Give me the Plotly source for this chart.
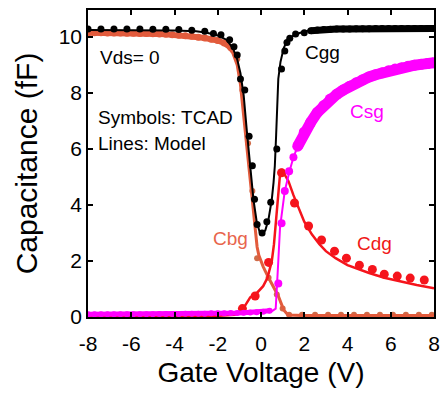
import plotly.graph_objects as go

# ---------------- data ----------------
# Model (lines)
cgg_v = [-8, -6, -4, -3, -2.5, -2, -1.6, -1.3, -1.1, -0.95, -0.8, -0.65, -0.5, -0.35, -0.2, -0.05, 0.05, 0.2, 0.35, 0.5, 0.58, 0.64, 0.7, 0.75, 0.8, 0.9, 1.05, 1.2, 1.5, 2.0, 2.5, 4, 8]
cgg_c = [10.25, 10.25, 10.23, 10.2, 10.15, 10.05, 9.9, 9.6, 9.2, 8.7, 7.9, 6.6, 5.3, 4.2, 3.4, 3.0, 2.95, 3.1, 3.5, 4.2, 4.8, 5.4, 6.5, 7.8, 8.5, 9.1, 9.6, 9.85, 10.05, 10.2, 10.25, 10.3, 10.3]

cbg_v = [-8, -6, -4, -3, -2.5, -2, -1.6, -1.3, -1.1, -0.95, -0.8, -0.64, -0.5, -0.4, -0.3, -0.18, -0.1, 0.1, 0.35, 0.55, 0.8, 0.95, 1.05, 1.25, 2, 8]
cbg_c = [10.12, 10.1, 10.07, 10.02, 9.97, 9.87, 9.72, 9.42, 9.0, 8.3, 7.2, 5.8, 4.8, 4.2, 3.3, 2.5, 2.2, 1.8, 1.4, 1.1, 0.75, 0.45, 0.25, 0.07, 0.05, 0.05]

cdg_v = [-8, -2, -1.2, -0.95, -0.7, -0.5, -0.2, 0.1, 0.3, 0.5, 0.6, 0.7, 0.8, 0.88, 0.95, 1.05, 1.27, 1.5, 1.75, 2.0, 2.35, 2.7, 3.0, 3.45, 4.0, 4.5, 5.0, 5.7, 6.5, 7.2, 8.0]
cdg_c = [0.03, 0.04, 0.08, 0.15, 0.45, 0.7, 0.85, 1.1, 1.4, 2.0, 2.6, 3.5, 4.4, 5.1, 5.28, 5.15, 4.85, 4.35, 3.85, 3.4, 2.95, 2.6, 2.35, 2.1, 1.85, 1.7, 1.57, 1.4, 1.25, 1.14, 1.03]

csg_v = [-8, -4, -1, 0, 0.5, 0.68, 0.74, 0.8, 0.88, 1.0, 1.1, 1.3, 1.5, 1.8, 2.1, 2.5, 3.0, 3.5, 4.0, 4.5, 5.0, 5.5, 6.0, 6.5, 7.0, 7.5, 8.0]
csg_c = [0.08, 0.1, 0.12, 0.15, 0.2, 0.3, 1.0, 2.0, 3.2, 4.0, 4.5, 5.15, 5.7, 6.3, 6.75, 7.2, 7.62, 7.95, 8.2, 8.42, 8.58, 8.72, 8.83, 8.92, 8.98, 9.03, 9.08]

# TCAD (symbols)
cgg_tv = [-8, -7.4, -6.8, -6.2, -5.6, -5.0, -4.4, -3.8, -3.2, -2.6, -2.2, -1.85, -1.45, -1.25, -1.1, -0.95, -0.75, -0.55, -0.4, -0.3, -0.18, 0.05, 0.27, 0.45, 0.73, 0.95, 1.1, 1.2, 1.33, 1.6, 2.0,
          2.3, 2.6, 2.9, 3.2, 3.5, 3.8, 4.1, 4.4, 4.7, 5.0, 5.3, 5.6, 5.9, 6.2, 6.5, 6.8, 7.1, 7.4, 7.7, 8.0]
cgg_tc = [10.28, 10.28, 10.28, 10.28, 10.28, 10.27, 10.27, 10.26, 10.24, 10.2, 10.12, 10.08, 9.9, 9.65, 9.35, 8.5, 8.1, 6.45, 5.4, 4.2, 3.3, 3.0, 3.4, 4.1, 6.0, 8.85, 9.5, 9.8, 9.95, 10.1, 10.15,
          10.22, 10.25, 10.26, 10.27, 10.28, 10.28, 10.28, 10.29, 10.29, 10.29, 10.3, 10.3, 10.3, 10.3, 10.3, 10.3, 10.3, 10.3, 10.3, 10.3]

cbg_tv = [-8, -7.7, -7.4, -7.1, -6.8, -6.5, -6.2, -5.9, -5.6, -5.3, -5.0, -4.7, -4.4, -4.1, -3.8, -3.5, -3.2, -2.9, -2.6, -2.3, -2.0, -1.7, -1.4, -1.1, -0.86, -0.6, -0.4, -0.18, 0.35, 0.73, 1.0,
          1.3, 1.9, 2.5, 3.1, 3.7, 4.3, 4.9, 5.5, 6.1, 6.7, 7.3, 7.9]
cbg_tc = [10.15, 10.15, 10.15, 10.14, 10.14, 10.14, 10.13, 10.13, 10.12, 10.12, 10.11, 10.1, 10.09, 10.08, 10.06, 10.04, 10.02, 9.99, 9.96, 9.92, 9.87, 9.78, 9.62, 9.2, 8.1, 6.2, 4.5, 2.1, 1.4, 0.8, 0.3,
          0.08, 0.08, 0.08, 0.08, 0.08, 0.08, 0.08, 0.08, 0.08, 0.08, 0.08, 0.08]

cdg_tv = [-0.86, -0.27, 0.35, 0.95, 1.55, 2.2, 2.8, 3.4, 3.95, 4.55, 5.15, 5.7, 6.3, 6.9, 7.55]
cdg_tc = [0.3, 0.75, 1.95, 5.15, 4.07, 3.25, 2.75, 2.35, 2.1, 1.85, 1.7, 1.53, 1.46, 1.39, 1.32]

csg_tv = [-8, -7.7, -7.4, -7.1, -6.8, -6.5, -6.2, -5.9, -5.6, -5.3, -5.0, -4.7, -4.4, -4.1, -3.8, -3.5, -3.2, -2.9, -2.6, -2.3, -2.0, -1.7, -1.4, -1.1, -0.8, -0.5, -0.2, 0.1, 0.4,
          0.8, 0.95, 1.1, 1.3, 1.5, 1.7, 2.0, 2.3, 2.6, 2.9, 3.2, 3.5, 3.8, 4.1, 4.4, 4.7, 5.0, 5.3, 5.6, 5.9, 6.2, 6.5, 6.8, 7.1, 7.4, 7.7, 8.0]
csg_tc = [0.1, 0.1, 0.1, 0.1, 0.1, 0.1, 0.1, 0.1, 0.1, 0.1, 0.1, 0.11, 0.11, 0.11, 0.11, 0.12, 0.12, 0.12, 0.12, 0.13, 0.13, 0.13, 0.14, 0.14, 0.15, 0.16, 0.17, 0.19, 0.22,
          1.2, 3.35, 4.5, 5.2, 5.7, 6.1, 6.6, 6.95, 7.3, 7.55, 7.78, 7.95, 8.1, 8.24, 8.36, 8.47, 8.57, 8.65, 8.72, 8.79, 8.85, 8.9, 8.95, 8.99, 9.02, 9.05, 9.08]

x_ticks = [-8, -6, -4, -2, 0, 2, 4, 6, 8]
y_ticks = [0, 2, 4, 6, 8, 10]

labels = [
    ("Vds= 0", -7.55, 9.25, "black"),
    ("Symbols: TCAD", -7.64, 7.14, "black"),
    ("Lines: Model", -7.64, 6.21, "black"),
    ("Cgg", 1.95, 9.43, "black"),
    ("Csg", 4.0, 7.32, "#ff00ff"),
    ("Cbg", -2.32, 2.82, "#e8654c"),
    ("Cdg", 4.36, 2.64, "#f01818"),
]

# ---------------- colors ----------------
C_GG = "black"
C_BG = "#e25b3c"
C_BG_M = "#cf6b48"
C_DG = "#f5141c"
C_SG = "#ff00ff"

FONT = "Liberation Sans, Arial, sans-serif"

fig = go.Figure()


def band(xs, ys, lo, hi, color, lw, ms):
    # densely packed TCAD symbols drawn as a thick connected band
    fig.add_trace(go.Scatter(x=xs[lo:hi], y=ys[lo:hi], mode="lines+markers",
                             line=dict(color=color, width=lw),
                             marker=dict(color=color, size=ms), showlegend=False))


def dots(xs, ys, lo, hi, color, ms):
    fig.add_trace(go.Scatter(x=xs[lo:hi], y=ys[lo:hi], mode="markers",
                             marker=dict(color=color, size=ms), showlegend=False))


def model(xs, ys, color, lw):
    fig.add_trace(go.Scatter(x=xs, y=ys, mode="lines",
                             line=dict(color=color, width=lw), showlegend=False))


# Cbg
band(cbg_tv, cbg_tc, 0, 23, C_BG, 6, 7)
dots(cbg_tv, cbg_tc, 23, len(cbg_tv), C_BG_M, 6)
model(cbg_v, cbg_c, C_BG, 3)
# Cdg
dots(cdg_tv, cdg_tc, 0, len(cdg_tv), C_DG, 9)
model(cdg_v, cdg_c, C_DG, 2.5)
# Cgg
dots(cgg_tv, cgg_tc, 0, 31, C_GG, 7)
band(cgg_tv, cgg_tc, 31, len(cgg_tv), C_GG, 7, 7)
model(cgg_v, cgg_c, C_GG, 2)
# Csg
band(csg_tv, csg_tc, 0, 29, C_SG, 5, 6)
dots(csg_tv, csg_tc, 29, 34, C_SG, 8)
band(csg_tv, csg_tc, 34, len(csg_tv), C_SG, 11, 11)
model(csg_v, csg_c, C_SG, 2)

for txt, xv, yv, col in labels:
    fig.add_annotation(x=xv, y=yv, text=txt, showarrow=False, xanchor="left", yanchor="middle",
                       font=dict(family=FONT, size=19, color=col))

axis_common = dict(showline=True, linecolor="black", linewidth=1.5, mirror="ticks",
                   ticks="inside", ticklen=5, tickwidth=1.5, tickcolor="black",
                   showgrid=False, zeroline=False,
                   tickfont=dict(family=FONT, size=21, color="black"))

fig.update_xaxes(range=[-8, 8], tickvals=x_ticks, ticktext=[str(t) for t in x_ticks],
                 ticklabelstandoff=7,
                 title=dict(text="Gate Voltage (V)", standoff=8,
                            font=dict(family=FONT, size=28, color="black")),
                 **axis_common)
fig.update_yaxes(range=[0, 10.96], tickvals=y_ticks, ticktext=[str(t) for t in y_ticks],
                 title=dict(text="Capacitance (fF)", standoff=12,
                            font=dict(family=FONT, size=30, color="black")),
                 **axis_common)

fig.update_layout(width=444, height=397, margin=dict(l=88, r=4, t=10, b=80),
                  plot_bgcolor="white", paper_bgcolor="white", showlegend=False)

fig.write_html("out.html")
